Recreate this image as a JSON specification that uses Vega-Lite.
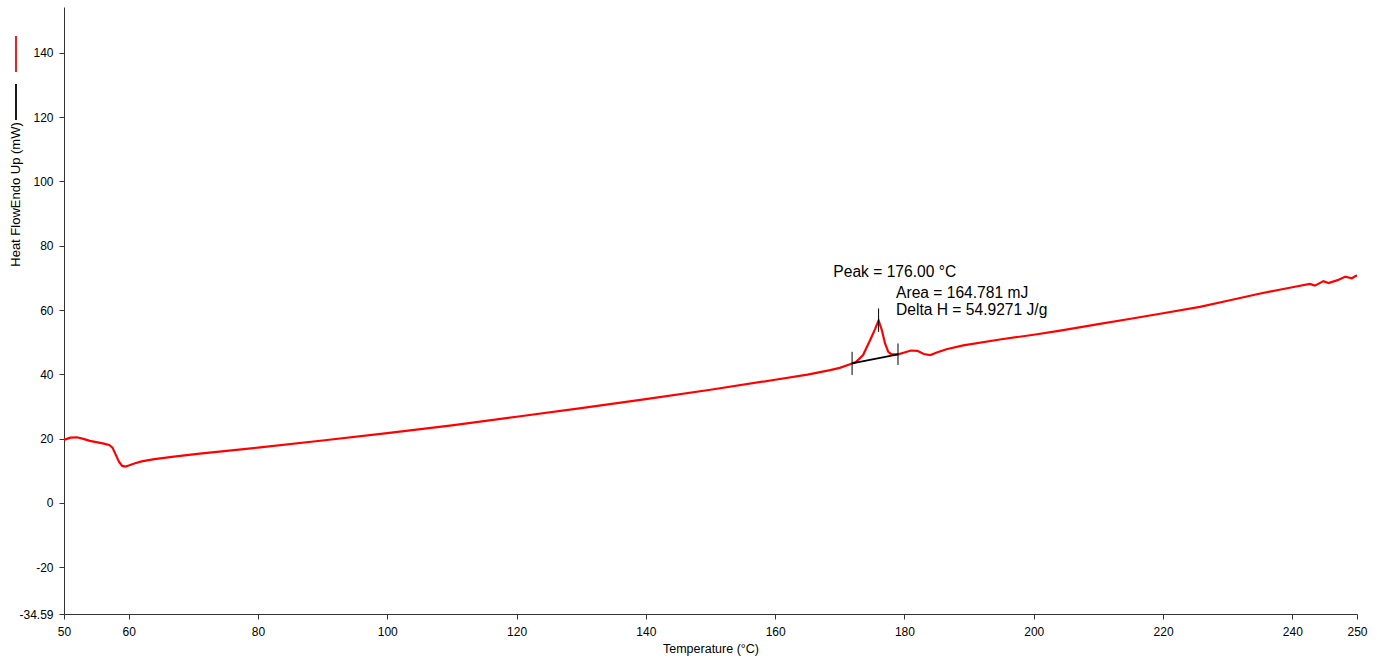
{
  "$schema": "https://vega.github.io/schema/vega-lite/v6.json",
  "width": 1293,
  "height": 607,
  "autosize": {"type": "none"},
  "padding": {"left": 64, "right": 24, "top": 7, "bottom": 48},
  "background": "white",
  "config": {
    "view": {"stroke": null},
    "font": "Liberation Sans",
    "axis": {
      "grid": false,
      "domainColor": "#333333",
      "tickColor": "#333333",
      "labelColor": "#000000",
      "titleColor": "#000000",
      "labelFont": "Liberation Sans",
      "titleFont": "Liberation Sans",
      "labelFontSize": 12,
      "titleFontSize": 12.5,
      "titleFontWeight": "normal",
      "tickSize": 5,
      "labelPadding": 4
    }
  },
  "datasets": {
    "curve": [
      {"t": 50, "v": 19.6}, {"t": 51, "v": 20.3}, {"t": 52, "v": 20.4}, {"t": 53, "v": 19.9},
      {"t": 54, "v": 19.3}, {"t": 55, "v": 18.9}, {"t": 56, "v": 18.5}, {"t": 57, "v": 18.0},
      {"t": 57.5, "v": 17.2}, {"t": 58, "v": 15.0}, {"t": 58.5, "v": 12.8}, {"t": 59, "v": 11.5},
      {"t": 59.5, "v": 11.3}, {"t": 60, "v": 11.6}, {"t": 61, "v": 12.3}, {"t": 62, "v": 12.9},
      {"t": 64, "v": 13.6}, {"t": 67, "v": 14.4}, {"t": 71, "v": 15.3}, {"t": 80, "v": 17.2},
      {"t": 90, "v": 19.4}, {"t": 100, "v": 21.7}, {"t": 110, "v": 24.1}, {"t": 120, "v": 26.8},
      {"t": 130, "v": 29.5}, {"t": 140, "v": 32.3}, {"t": 150, "v": 35.2}, {"t": 160, "v": 38.3},
      {"t": 165, "v": 39.9}, {"t": 168.5, "v": 41.3}, {"t": 170, "v": 42.0}, {"t": 171.8, "v": 43.3},
      {"t": 172.5, "v": 43.8}, {"t": 173.6, "v": 46.0}, {"t": 174.7, "v": 50.7}, {"t": 175.5, "v": 54.3},
      {"t": 176.0, "v": 56.8}, {"t": 176.5, "v": 53.8}, {"t": 177.0, "v": 49.6}, {"t": 177.5, "v": 47.0},
      {"t": 178.0, "v": 46.2}, {"t": 179.0, "v": 46.2}, {"t": 180.0, "v": 46.8}, {"t": 181.0, "v": 47.4},
      {"t": 182.0, "v": 47.3}, {"t": 183.0, "v": 46.3}, {"t": 184.0, "v": 46.0}, {"t": 185.0, "v": 46.8},
      {"t": 186.5, "v": 47.8}, {"t": 189.1, "v": 49.0}, {"t": 195, "v": 50.9}, {"t": 200, "v": 52.3},
      {"t": 204.1, "v": 53.6}, {"t": 210, "v": 55.6}, {"t": 215, "v": 57.3}, {"t": 220, "v": 59.0},
      {"t": 225.7, "v": 61.0}, {"t": 230, "v": 62.9}, {"t": 234.7, "v": 65.0}, {"t": 238, "v": 66.3},
      {"t": 240, "v": 67.1}, {"t": 242.7, "v": 68.1}, {"t": 243.5, "v": 67.6}, {"t": 244.8, "v": 69.0},
      {"t": 245.6, "v": 68.4}, {"t": 247, "v": 69.3}, {"t": 248.2, "v": 70.4}, {"t": 249.2, "v": 69.9},
      {"t": 250, "v": 70.8}
    ],
    "baseline": [
      {"t": 171.9, "v": 43.4}, {"t": 179.0, "v": 46.2}
    ],
    "ticks": [
      {"t": 171.9, "v1": 39.8, "v2": 47.0},
      {"t": 179.0, "v1": 42.9, "v2": 49.6},
      {"t": 176.0, "v1": 53.2, "v2": 60.5}
    ],
    "labels": [
      {"t": 169.0, "v": 70.35, "text": "Peak = 176.00 °C"},
      {"t": 178.7, "v": 63.9, "text": "Area = 164.781 mJ"},
      {"t": 178.7, "v": 58.35, "text": "Delta H = 54.9271 J/g"}
    ]
  },
  "layer": [
    {
      "data": {"name": "curve"},
      "transform": [{"calculate": "'Heat Flow'", "as": "series"}],
      "mark": {"type": "line", "strokeWidth": 2.2},
      "encoding": {
        "x": {
          "field": "t", "type": "quantitative",
          "scale": {"domain": [50, 250], "nice": false, "zero": false},
          "axis": {
            "title": "Temperature (°C)",
            "values": [50, 60, 80, 100, 120, 140, 160, 180, 200, 220, 240, 250],
            "labelFlush": false, "labelOverlap": false, "labelPadding": 7,
            "titleY": 34, "titleBaseline": "middle"
          }
        },
        "y": {
          "field": "v", "type": "quantitative",
          "scale": {"domain": [-34.59, 154.3], "nice": false, "zero": false},
          "axis": {
            "title": "Heat FlowEndo Up (mW)",
            "values": [-34.59, -20, 0, 20, 40, 60, 80, 100, 120, 140],
            "labelExpr": "'' + datum.value",
            "labelOverlap": false, "labelPadding": 6,
            "titleX": -49, "titleY": 187, "titleAngle": 270,
            "titleAlign": "center", "titleBaseline": "middle", "titleFontSize": 13
          }
        },
        "color": {
          "field": "series", "type": "nominal",
          "scale": {"domain": ["Heat Flow", "Baseline"], "range": ["#ff0000", "#000000"]},
          "legend": {
            "orient": "none", "legendX": -67, "legendY": 28,
            "title": null, "symbolType": "M0,-1L0,1", "symbolSize": 1296,
            "symbolStrokeWidth": 1.8, "labelExpr": "''", "labelFontSize": 1,
            "rowPadding": 4, "direction": "vertical", "padding": 0
          }
        }
      }
    },
    {
      "data": {"name": "baseline"},
      "transform": [{"calculate": "'Baseline'", "as": "series"}],
      "mark": {"type": "line", "strokeWidth": 2},
      "encoding": {
        "x": {"field": "t", "type": "quantitative"},
        "y": {"field": "v", "type": "quantitative"},
        "color": {"field": "series", "type": "nominal"}
      }
    },
    {
      "data": {"name": "ticks"},
      "mark": {"type": "rule", "color": "#000000", "strokeWidth": 1},
      "encoding": {
        "x": {"field": "t", "type": "quantitative"},
        "y": {"field": "v1", "type": "quantitative"},
        "y2": {"field": "v2"}
      }
    },
    {
      "data": {"name": "labels"},
      "mark": {"type": "text", "align": "left", "baseline": "alphabetic", "fontSize": 15.6, "font": "Liberation Sans", "color": "#000000"},
      "encoding": {
        "x": {"field": "t", "type": "quantitative"},
        "y": {"field": "v", "type": "quantitative"},
        "text": {"field": "text", "type": "nominal"}
      }
    }
  ]
}
